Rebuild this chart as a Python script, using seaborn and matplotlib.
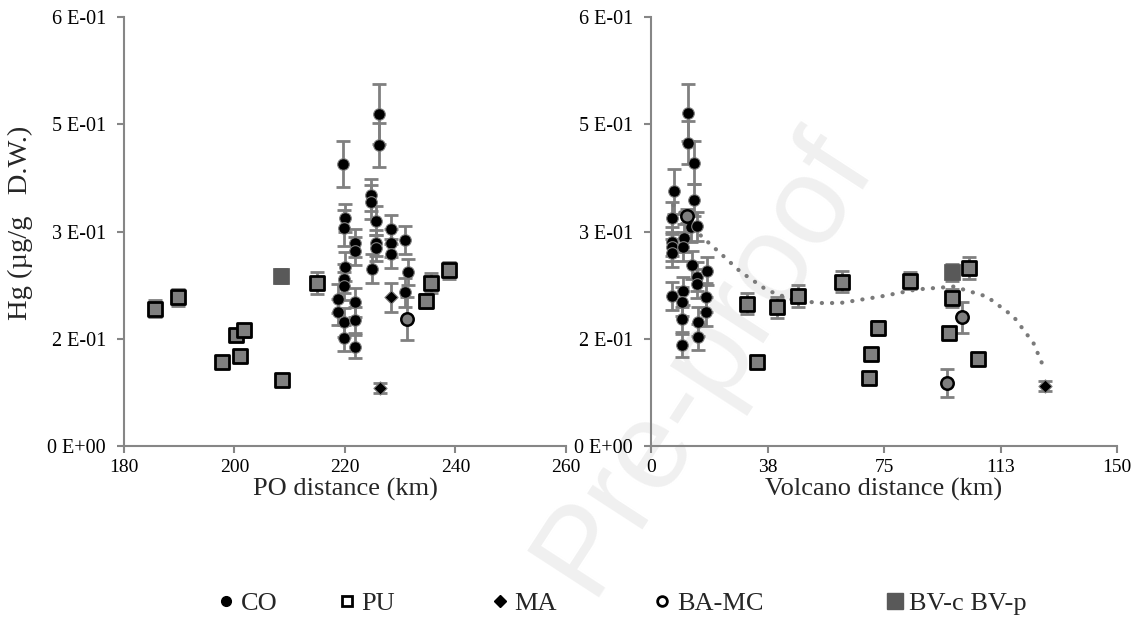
import numpy as np
import pandas as pd
import matplotlib
matplotlib.use("Agg")
import matplotlib.pyplot as plt
from matplotlib.lines import Line2D
import seaborn as sns

# ---------------- data ----------------
# Left panel: PO distance (km)
co_po_x = [226.2, 226.2, 219.7, 224.7, 224.7, 220.0, 219.8, 225.6, 221.9, 221.9,
           225.6, 225.6, 228.3, 228.3, 228.3, 230.9, 231.5, 230.9, 224.9, 220.0,
           219.8, 219.8, 218.7, 218.7, 219.8, 219.8, 221.9, 221.9, 221.9]
co_po_y = [0.464, 0.421, 0.394, 0.351, 0.341, 0.319, 0.305, 0.315, 0.284, 0.273,
           0.284, 0.277, 0.303, 0.284, 0.269, 0.288, 0.243, 0.215, 0.248, 0.251,
           0.234, 0.224, 0.206, 0.187, 0.173, 0.151, 0.201, 0.176, 0.139]
co_po_e = [0.042, 0.031, 0.032, 0.022, 0.024, 0.020, 0.025, 0.020, 0.020, 0.020,
           0.018, 0.018, 0.020, 0.020, 0.020, 0.020, 0.018, 0.020, 0.020, 0.020,
           0.020, 0.020, 0.020, 0.018, 0.020, 0.018, 0.020, 0.018, 0.016]

pu_po_x = [185.6, 189.7, 197.7, 200.2, 201.0, 201.7, 208.6, 214.9, 234.6, 235.5, 238.8]
pu_po_y = [0.192, 0.208, 0.118, 0.155, 0.126, 0.162, 0.092, 0.228, 0.203, 0.228, 0.246]
pu_po_e = [0.012, 0.012, 0.006, 0.008, 0.007, 0.009, 0.008, 0.015, 0.010, 0.014, 0.012]

ma_po_x = [228.3, 226.4]
ma_po_y = [0.208, 0.081]
ma_po_e = [0.020, 0.007]

ba_po_x = [231.2]
ba_po_y = [0.178]
ba_po_e = [0.030]

bv_po_x = [208.5]
bv_po_y = [0.238]
bv_po_e = [0.010]

# Right panel: Volcano distance (km)
co_vo_x = [11.8, 11.8, 13.8, 7.5, 13.8, 6.9, 12.8, 10.6, 6.9, 6.9, 6.9, 10.2, 13.1,
           14.7, 14.7, 17.9, 6.9, 10.4, 10.1, 10.1, 10.1, 17.6, 17.6, 15.0, 15.0, 14.9]
co_vo_y = [0.466, 0.424, 0.396, 0.356, 0.344, 0.319, 0.306, 0.291, 0.286, 0.279, 0.270,
           0.279, 0.253, 0.237, 0.227, 0.245, 0.210, 0.217, 0.202, 0.177, 0.141, 0.208,
           0.188, 0.174, 0.152, 0.307]
co_vo_e = [0.040, 0.030, 0.030, 0.032, 0.022, 0.022, 0.020, 0.020, 0.020, 0.020, 0.020,
           0.020, 0.020, 0.020, 0.020, 0.020, 0.020, 0.020, 0.020, 0.018, 0.016, 0.020,
           0.020, 0.020, 0.018, 0.020]

pu_vo_x = [31.0, 40.6, 47.2, 61.4, 34.0, 73.2, 70.7, 70.3, 83.2, 96.8, 96.0, 102.2, 105.1]
pu_vo_y = [0.199, 0.194, 0.210, 0.230, 0.118, 0.165, 0.129, 0.095, 0.231, 0.207, 0.158,
           0.249, 0.122]
pu_vo_e = [0.015, 0.015, 0.015, 0.015, 0.007, 0.010, 0.007, 0.006, 0.012, 0.012, 0.008,
           0.015, 0.007]

ma_vo_x = [126.9]
ma_vo_y = [0.084]
ma_vo_e = [0.007]

ba_vo_x = [100.1, 95.4, 11.7]
ba_vo_y = [0.180, 0.088, 0.322]
ba_vo_e = [0.022, 0.020, 0.010]

bv_vo_x = [96.8]
bv_vo_y = [0.243]
bv_vo_e = [0.012]

# dotted trend line
trend_x = [7.2, 16.3, 22.2, 28.7, 37.3, 45.8, 54.4, 60.9, 73.8, 85.6, 97.4, 108.1,
           116.7, 123.1, 126.3]
trend_y = [0.337, 0.293, 0.270, 0.244, 0.218, 0.204, 0.200, 0.200, 0.209, 0.219,
           0.223, 0.209, 0.181, 0.144, 0.111]

y_ticks = [0.0, 0.15, 0.30, 0.45, 0.60]
y_tick_labels = ["0 E+00", "2 E-01", "3 E-01", "5 E-01", "6 E-01"]
po_ticks = [180, 200, 220, 240, 260]
vo_ticks = [0, 37.5, 75, 112.5, 150]
vo_tick_labels = ["0", "38", "75", "113", "150"]
legend_labels = ["CO", "PU", "MA", "BA-MC", "BV-c BV-p"]

# ---------------- styling ----------------
sns.set_theme(style="white")
plt.rcParams["font.family"] = ["Liberation Serif", "DejaVu Serif"]

GREY = "#808080"
AXIS = "#868686"

styles = {
    "CO": dict(marker="o", s=70, color="black", edgecolor=GREY, linewidth=0.8),
    "PU": dict(marker="s", s=90, color="#7f7f7f", edgecolor="black", linewidth=2.0),
    "MA": dict(marker="D", s=45, color="black", edgecolor=GREY, linewidth=0.8),
    "BA-MC": dict(marker="o", s=80, color="#7f7f7f", edgecolor="black", linewidth=1.8),
    "BV-c BV-p": dict(marker="s", s=120, color="#595959", edgecolor="#595959", linewidth=0.5),
}

fig = plt.figure(figsize=(11.39, 6.18), dpi=100)
fig.patch.set_facecolor("white")

ax1 = fig.add_axes([0.1088, 0.2783, 0.3881, 0.6942])
ax2 = fig.add_axes([0.5716, 0.2783, 0.4091, 0.6942])

# watermark
fig.text(0.618, 0.415, "Pre-proof", fontsize=90, color="#f0f0f0", rotation=57,
         ha="center", va="center", family="Liberation Sans", zorder=-5)


def draw_group(ax, x, y, e, key):
    ax.errorbar(x, y, yerr=e, fmt="none", ecolor=GREY, elinewidth=2.0,
                capsize=5, capthick=2.0, zorder=2)
    df = pd.DataFrame({"x": x, "y": y})
    st = styles[key]
    sns.scatterplot(data=df, x="x", y="y", ax=ax, marker=st["marker"], s=st["s"],
                    color=st["color"], edgecolor=st["edgecolor"],
                    linewidth=st["linewidth"], zorder=3, legend=False)


groups_po = [("CO", co_po_x, co_po_y, co_po_e), ("PU", pu_po_x, pu_po_y, pu_po_e),
             ("MA", ma_po_x, ma_po_y, ma_po_e), ("BA-MC", ba_po_x, ba_po_y, ba_po_e),
             ("BV-c BV-p", bv_po_x, bv_po_y, bv_po_e)]
groups_vo = [("CO", co_vo_x, co_vo_y, co_vo_e), ("PU", pu_vo_x, pu_vo_y, pu_vo_e),
             ("MA", ma_vo_x, ma_vo_y, ma_vo_e), ("BA-MC", ba_vo_x, ba_vo_y, ba_vo_e),
             ("BV-c BV-p", bv_vo_x, bv_vo_y, bv_vo_e)]

for key, x, y, e in groups_po:
    draw_group(ax1, x, y, e, key)
for key, x, y, e in groups_vo:
    draw_group(ax2, x, y, e, key)

trend_df = pd.DataFrame({"x": trend_x, "y": trend_y})
sns.lineplot(data=trend_df, x="x", y="y", ax=ax2, color="#7a7a7a", linewidth=3,
             linestyle=(0, (0.05, 2.4)), dash_capstyle="round", zorder=2.5,
             sort=False, estimator=None)

for ax in (ax1, ax2):
    ax.set_facecolor("none")
    ax.set_ylim(0, 0.6)
    ax.set_yticks(y_ticks)
    ax.set_yticklabels(y_tick_labels)
    for side in ("top", "right"):
        ax.spines[side].set_visible(False)
    for side in ("left", "bottom"):
        ax.spines[side].set_color(AXIS)
        ax.spines[side].set_linewidth(1.5)
    ax.tick_params(axis="both", which="major", direction="out", length=5, width=1.5,
                   color=AXIS, labelcolor="black")
    ax.tick_params(axis="x", labelsize=14, pad=4)
    ax.tick_params(axis="y", labelsize=14.5, pad=8)
    ax.tick_params(left=True, bottom=True)
    ax.grid(False)

ax1.set_xlim(180, 260)
ax1.set_xticks(po_ticks)
ax1.set_xlabel("PO distance (km)", fontsize=19, labelpad=2)
ax1.set_ylabel("Hg (µg/g   D.W.)", fontsize=20.5)
ax1.yaxis.set_label_coords(-0.205, 0.52)

ax2.set_xlim(0, 150)
ax2.set_xticks(vo_ticks)
ax2.set_xticklabels(vo_tick_labels)
ax2.set_xlabel("Volcano distance (km)", fontsize=19, labelpad=2)
ax2.set_ylabel("")

# legend (one entry per legend box, positioned like the reference)
legend_x = [0.187, 0.293, 0.427, 0.570, 0.774]
for key, lx in zip(legend_labels, legend_x):
    if key == "PU":
        h = Line2D([], [], linestyle="none", marker="s", markersize=7,
                   markerfacecolor="white", markeredgecolor="black", markeredgewidth=2)
    elif key == "BA-MC":
        h = Line2D([], [], linestyle="none", marker="o", markersize=7,
                   markerfacecolor="white", markeredgecolor="black", markeredgewidth=2)
    elif key == "BV-c BV-p":
        h = Line2D([], [], linestyle="none", marker="s", markersize=11,
                   markerfacecolor="#595959", markeredgecolor="#595959")
    elif key == "MA":
        h = Line2D([], [], linestyle="none", marker="D", markersize=6,
                   markerfacecolor="black", markeredgecolor="black")
    else:
        h = Line2D([], [], linestyle="none", marker="o", markersize=7,
                   markerfacecolor="black", markeredgecolor="black")
    fig.legend([h], [key], loc="center left", bbox_to_anchor=(lx, 0.024),
               frameon=False, fontsize=19, handletextpad=0.05, handlelength=1.0,
               borderpad=0, borderaxespad=0)

fig.savefig("out.png", dpi=100, facecolor="white")
